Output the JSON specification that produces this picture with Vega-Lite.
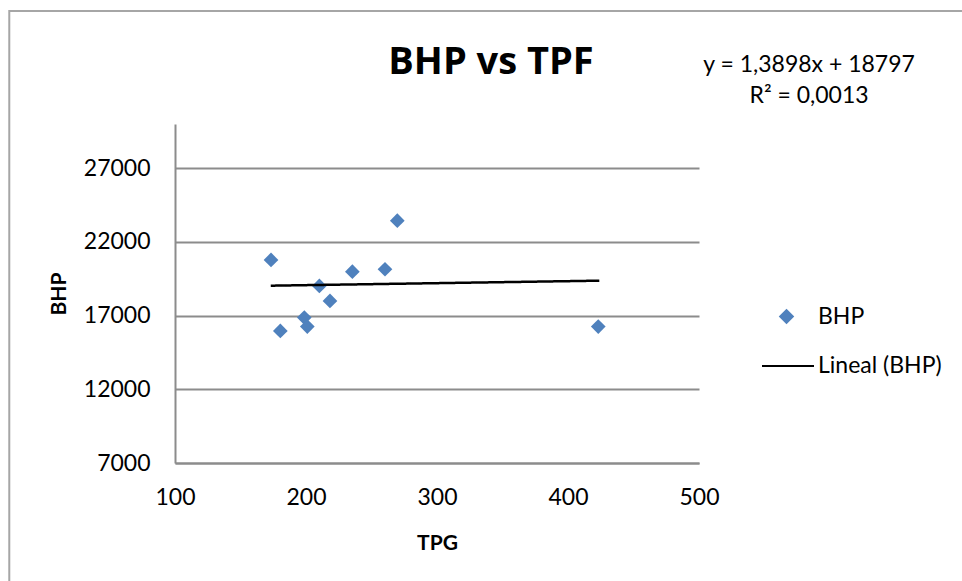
{
  "$schema": "https://vega.github.io/schema/vega-lite/v6.json",
  "width": 524,
  "height": 339,
  "autosize": "none",
  "padding": {"left": 175, "top": 124, "right": 263, "bottom": 118},
  "background": "white",
  "config": {
    "font": "Lato",
    "view": {"stroke": null},
    "axis": {
      "labelFont": "Lato",
      "labelFontSize": 23,
      "labelColor": "#000000",
      "titleFont": "Lato",
      "titleFontSize": 21,
      "titleFontWeight": "bold",
      "titleColor": "#000000",
      "domainColor": "#8c8c8c",
      "domainWidth": 2,
      "gridColor": "#8c8c8c",
      "gridWidth": 2,
      "ticks": false,
      "tickSize": 0,
      "labelFlush": false
    },
    "legend": {
      "labelFont": "Lato",
      "labelFontSize": 23,
      "labelColor": "#000000",
      "padding": 0
    }
  },
  "title": {
    "text": "BHP vs TPF",
    "font": "Open Sans",
    "fontSize": 38,
    "fontWeight": "bold",
    "color": "#000000",
    "anchor": "middle",
    "frame": "group",
    "dx": 54,
    "baseline": "alphabetic",
    "offset": -102
  },
  "layer": [
    {
      "data": {"values": [{"frame": "border"}]},
      "mark": {"type": "rect", "fill": null, "stroke": "#a6a6a6", "strokeWidth": 2},
      "encoding": {
        "x": {"datum": -26.5, "type": "quantitative", "scale": {"domain": [100, 500], "nice": false}},
        "x2": {"datum": 800},
        "y": {"datum": 37670, "type": "quantitative", "scale": {"domain": [7000, 30000], "nice": false}},
        "y2": {"datum": -10000}
      }
    },
    {
      "data": {"values": [
        {"TPG": 173.3, "BHP": 20777},
        {"TPG": 180.4, "BHP": 15963},
        {"TPG": 198.7, "BHP": 16864},
        {"TPG": 201.0, "BHP": 16254},
        {"TPG": 210.2, "BHP": 19014},
        {"TPG": 218.3, "BHP": 17997},
        {"TPG": 235.4, "BHP": 19983},
        {"TPG": 260.3, "BHP": 20146},
        {"TPG": 269.7, "BHP": 23441},
        {"TPG": 423.1, "BHP": 16254}
      ]},
      "mark": {"type": "point", "shape": "diamond", "filled": true, "size": 216, "opacity": 1},
      "encoding": {
        "x": {"field": "TPG", "type": "quantitative",
              "scale": {"domain": [100, 500], "nice": false},
              "axis": {"values": [100, 200, 300, 400, 500], "grid": false, "labelPadding": 23, "titlePadding": 23, "title": "TPG"}},
        "y": {"field": "BHP", "type": "quantitative",
              "scale": {"domain": [7000, 30000], "nice": false, "zero": false},
              "axis": {"values": [7000, 12000, 17000, 22000, 27000], "format": "d", "grid": true, "labelPadding": 25, "titlePadding": 14, "title": "BHP"}},
        "color": {"datum": "BHP", "type": "nominal",
                  "scale": {"domain": ["BHP"], "range": ["#4F81BD"]},
                  "legend": {
                    "title": null,
                    "orient": "none",
                    "legendX": 600,
                    "legendY": 181,
                    "symbolType": "diamond",
                    "symbolSize": 240,
                    "symbolOpacity": 1,
                    "labelOffset": 20
                  }}
      }
    },
    {
      "data": {"values": [
        {"TPG": 173.1, "BHP": 19030},
        {"TPG": 423.9, "BHP": 19370}
      ]},
      "mark": {"type": "line", "strokeWidth": 2.5, "color": "#000000"},
      "encoding": {
        "x": {"field": "TPG", "type": "quantitative"},
        "y": {"field": "BHP", "type": "quantitative"},
        "strokeDash": {"datum": "Lineal (BHP)", "type": "nominal",
                       "scale": {"domain": ["Lineal (BHP)"], "range": [[1, 0]]},
                       "legend": {
                         "title": null,
                         "orient": "none",
                         "legendX": 586,
                         "legendY": 215,
                         "symbolType": "stroke",
                         "symbolSize": 2704,
                         "symbolStrokeColor": "#000000",
                         "symbolStrokeWidth": 2,
                         "labelOffset": 3
                       }}
      }
    },
    {
      "data": {"values": [{"eq": "y = 1,3898x + 18797\nR² = 0,0013"}]},
      "mark": {"type": "text", "font": "Lato", "fontSize": 23, "lineBreak": "\n", "lineHeight": 31.6, "align": "center", "baseline": "alphabetic", "color": "#000000"},
      "encoding": {
        "text": {"field": "eq"},
        "x": {"datum": 584, "type": "quantitative"},
        "y": {"datum": 33550, "type": "quantitative"}
      }
    }
  ]
}
